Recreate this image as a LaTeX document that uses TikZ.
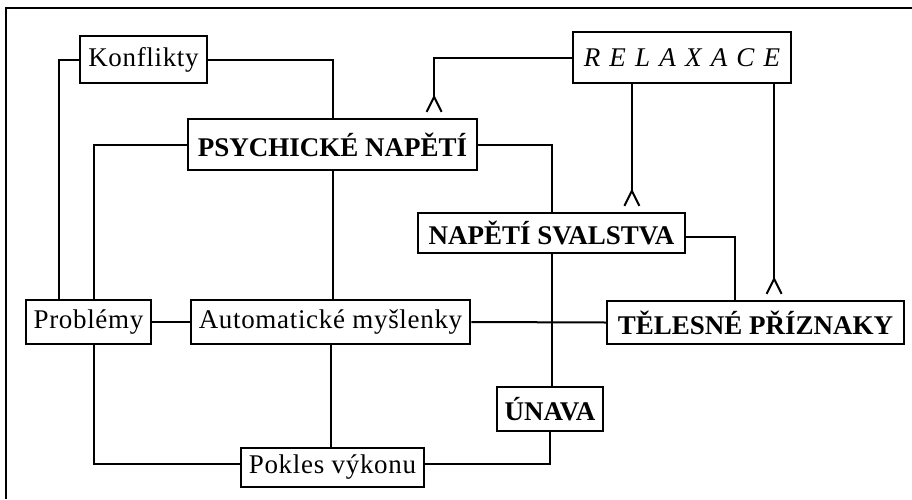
\documentclass[tikz,border=0pt]{standalone}
\usepackage{fontspec}
\setmainfont{Liberation Serif}
\newfontfamily\spacedfont[LetterSpace=2.5]{Liberation Serif}
\usetikzlibrary{arrows.meta}

\begin{document}
\begin{tikzpicture}[
  x=0.5pt, y=-0.5pt,
  line width=1pt,
  box/.style={rectangle, draw, line width=1.1pt, inner xsep=4pt, inner ysep=0pt, minimum height=22pt, font=\fontsize{13.5}{15}\spacedfont},
  bbox/.style={box, font=\fontsize{13.5}{15}\selectfont\bfseries},
  crow/.style={-{Straight Barb[reversed, length=7.5pt, width=7.5pt, line width=1pt]}, shorten >=2.5pt}
]
  \useasboundingbox (0,0) rectangle (912,499);
  % frame (only top and left visible)
  \draw[line width=1.3pt] (912,8) -| (6,499);

  % nodes
  \node[box, minimum height=23.5pt, minimum width=61.5pt] (konf) at (143.5,59.5) {Konflikty};
  \node[box, minimum height=25.5pt, minimum width=109pt] (relax) at (682,57.5)
    {\itshape R\hspace{4.6pt}E\hspace{4.6pt}L\hspace{4.6pt}A\hspace{4.6pt}X\hspace{4.6pt}A\hspace{4.6pt}C\hspace{4.6pt}E};
  \node[bbox, minimum height=25.5pt, minimum width=144.5pt] (psych) at (332.5,144.5) {PSYCHICKÉ NAPĚTÍ};
  \node[bbox, minimum height=20pt, minimum width=133.5pt] (sval) at (551.5,233) {NAPĚTÍ SVALSTVA};
  \node[box, minimum width=59.5pt] (prob) at (88.5,322) {Problémy};
  \node[box, minimum width=138.5pt] (auto) at (330.5,322) {Automatické myšlenky};
  \node[bbox, minimum height=21.5pt, minimum width=148.5pt] (teles) at (755.5,322.5) {TĚLESNÉ PŘÍZNAKY};
  \node[bbox, minimum width=52pt] (unava) at (550,409) {ÚNAVA};
  \node[box, minimum height=19.5pt, minimum width=91.5pt] (pokles) at (332.5,467.5) {Pokles výkonu};

  % connectors
  \draw (konf.west) -| ([xshift=17pt]prob.north west);
  \draw (konf.east) -| (psych.north);
  \draw (psych.west) -| ([xshift=34.5pt]prob.north west);
  \draw (psych.east) -| (sval.north);
  \draw (psych.south) -- (psych.south |- auto.north);
  \draw (prob.east) -- (auto.west);
  \draw (auto.east) -- (teles.west);
  \draw (auto.south) -- (auto.south |- pokles.north);
  \draw ([xshift=34.5pt]prob.south west) |- ([yshift=1.75pt]pokles.west);
  \draw (unava.south) |- ([yshift=1.75pt]pokles.east);
  \draw (sval.south) -- (sval.south |- unava.north);
  \draw ([yshift=-2pt]sval.east) -| ([xshift=64.5pt]teles.north west);

  % relaxation
  \draw[crow] (relax.west) -| ([xshift=-22pt]psych.north east);
  \draw[crow] ([xshift=30pt]relax.south west) -- ([xshift=30pt]relax.south west |- sval.north);
  \draw[crow] ([xshift=-9pt]relax.south east) -- ([xshift=-9pt]relax.south east |- teles.north);
\end{tikzpicture}
\end{document}
